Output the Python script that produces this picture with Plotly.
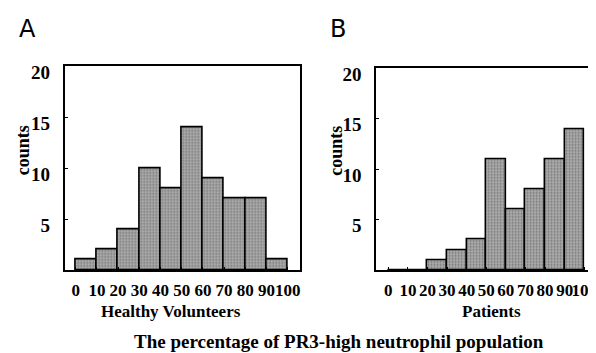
import plotly.graph_objects as go

# Data
bin_starts = [0, 10, 20, 30, 40, 50, 60, 70, 80, 90]
healthy_counts = [1, 2, 4, 10, 8, 14, 9, 7, 7, 1]
patient_counts = [0, 0, 1, 2, 3, 11, 6, 8, 11, 14]
x_tick_vals = [0, 10, 20, 30, 40, 50, 60, 70, 80, 90, 100]
x_tick_text = ["0", "10", "20", "30", "40", "50", "60", "70", "80", "90", "100"]
y_tick_vals = [5, 10, 15, 20]
y_tick_text = ["5", "10", "15", "20"]

W, H = 596, 353
SERIF = "Liberation Serif, Times New Roman, serif"
SANS = "DejaVu Sans, Liberation Sans, sans-serif"

fig = go.Figure()

bar_style = dict(
    marker=dict(
        color="#a0a0a0",
        line=dict(color="black", width=1.6),
        pattern=dict(shape=".", fgcolor="#3a3a3a", bgcolor="#acacac", size=3, solidity=0.3),
    ),
    width=10,
    offset=0,
    showlegend=False,
    hoverinfo="skip",
)

fig.add_trace(go.Bar(x=bin_starts, y=healthy_counts, xaxis="x", yaxis="y", **bar_style))
fig.add_trace(go.Bar(x=bin_starts, y=patient_counts, xaxis="x2", yaxis="y2", **bar_style))

def px_x(a, b):
    return [a / W, b / W]

def px_y(top, bottom):
    return [1 - bottom / H, 1 - top / H]

xaxis_common = dict(
    tickmode="array",
    tickvals=x_tick_vals,
    ticktext=x_tick_text,
    tickangle=0,
    ticks="inside",
    ticklen=3,
    tickcolor="black",
    showline=True,
    linecolor="black",
    linewidth=1.6,
    mirror=True,
    showgrid=False,
    zeroline=False,
    tickfont=dict(family=SERIF, size=17, color="black", weight="bold"),
    ticklabelstandoff=4,
    ticklabeloverflow="allow",
    fixedrange=True,
)
yaxis_common = dict(
    range=[0, 20],
    tickmode="array",
    tickvals=y_tick_vals,
    ticktext=y_tick_text,
    ticks="inside",
    ticklen=3,
    tickcolor="black",
    showline=True,
    linecolor="black",
    linewidth=1.6,
    mirror=True,
    showgrid=False,
    zeroline=False,
    tickfont=dict(family=SERIF, size=19, color="black", weight="bold"),
    ticklabelshift=6,
    ticklabelstandoff=9,
    ticklabeloverflow="allow",
    fixedrange=True,
)

fig.update_layout(
    width=W,
    height=H,
    margin=dict(l=0, r=0, t=0, b=0),
    paper_bgcolor="white",
    plot_bgcolor="white",
    bargap=0,
    xaxis=dict(domain=px_x(57, 293), range=[-5.2, 105.6], anchor="y", **xaxis_common),
    yaxis=dict(domain=px_y(55, 261), anchor="x", **yaxis_common),
    xaxis2=dict(domain=px_x(370, 589), range=[-6.2, 105], anchor="y2", **xaxis_common),
    yaxis2=dict(domain=px_y(57, 261), anchor="x2", **yaxis_common),
)

annotations = [
    dict(text="A", x=20 / W, y=1 - 17 / H, font=dict(family=SANS, size=24, color="black")),
    dict(text="B", x=332 / W, y=1 - 17 / H, font=dict(family=SANS, size=24, color="black")),
    dict(text="counts", x=15 / W, y=1 - 140 / H, textangle=-90,
         font=dict(family=SERIF, size=18, color="black", weight="bold")),
    dict(text="counts", x=330 / W, y=1 - 140 / H, textangle=-90,
         font=dict(family=SERIF, size=18, color="black", weight="bold")),
    dict(text="Healthy Volunteers", x=164 / W, y=1 - 303 / H,
         font=dict(family=SERIF, size=17, color="black", weight="bold")),
    dict(text="Patients", x=486 / W, y=1 - 303 / H,
         font=dict(family=SERIF, size=17, color="black", weight="bold")),
    dict(text="The percentage of PR3-high neutrophil population", x=333 / W, y=1 - 333 / H,
         font=dict(family=SERIF, size=19, color="black", weight="bold")),
]
for a in annotations:
    a.update(xref="paper", yref="paper", showarrow=False, xanchor="center", yanchor="middle")
fig.update_layout(annotations=annotations)

fig.write_html("out.html")
